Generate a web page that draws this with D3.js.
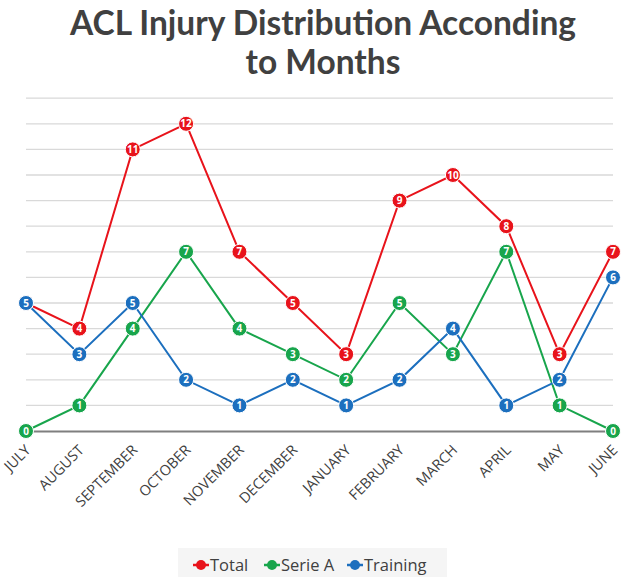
<!DOCTYPE html>
<html><head><meta charset="utf-8">
<script src="https://cdn.jsdelivr.net/npm/d3@7"></script>
<style>body{margin:0;background:#fff}svg{display:block}</style>
</head><body><svg id="c" width="630" height="582"></svg>
<script>
const months = ["JULY","AUGUST","SEPTEMBER","OCTOBER","NOVEMBER","DECEMBER","JANUARY","FEBRUARY","MARCH","APRIL","MAY","JUNE"];
const total = [5,4,11,12,7,5,3,9,10,8,3,7];
const serieA = [0,1,4,7,4,3,2,5,3,7,1,0];
const training = [5,3,5,2,1,2,1,2,4,1,2,6];
const seriesNames = ["Total","Serie A","Training"];
const colors = ["#E8131B","#18A54C","#1C6FBE"];
const gridTicks = d3.range(1,14);

const svg = d3.select("#c");
const x = d3.scalePoint().domain(months).range([26,613]);
const y = d3.scaleLinear().domain([0,13]).range([431,98.2]);

// title
const title = svg.append("text").attr("text-anchor","middle").attr("fill","#404040")
  .style("font-family","Lato, 'Open Sans', sans-serif").style("font-weight","bold").style("font-size","33.5px");
title.append("tspan").attr("x",323).attr("y",35).text("ACL Injury Distribution Acconding");
title.append("tspan").attr("x",323).attr("y",74).text("to Months");

// grid
svg.append("g").selectAll("line").data(gridTicks).join("line")
  .attr("x1",26).attr("x2",613).attr("y1",d=>y(d)).attr("y2",d=>y(d))
  .attr("stroke","#d9d9d9").attr("stroke-width",1.3);

// x axis
const xAxis = svg.append("g").attr("transform",`translate(0,${y(0)})`)
  .call(d3.axisBottom(x).tickSize(0).tickPadding(0));
xAxis.select(".domain").attr("stroke","#7f7f7f").attr("stroke-width",2);
xAxis.selectAll("text").attr("fill","#404040")
  .style("font-family","'Open Sans', sans-serif").style("font-size","14.5px")
  .attr("text-anchor","end").attr("dy",null).attr("y",0)
  .attr("transform","translate(5,20) rotate(-45)");

const data = [total, serieA, training];
const line = d3.line().x((d,i)=>x(months[i])).y(d=>y(d));
data.forEach((vals,k)=>{
  svg.append("path").datum(vals).attr("d",line).attr("fill","none")
    .attr("stroke",colors[k]).attr("stroke-width",2);
});
data.forEach((vals,k)=>{
  const g = svg.append("g");
  const pts = g.selectAll("g").data(vals).join("g")
    .attr("transform",(d,i)=>`translate(${x(months[i])},${y(d)})`);
  pts.append("circle").attr("r",7.5).attr("fill",colors[k]).attr("stroke","#fff").attr("stroke-width",1);
  pts.append("text").attr("text-anchor","middle").attr("dy","0.36em").attr("fill","#fff")
    .style("font-family","'Open Sans', sans-serif").style("font-weight","bold").style("font-size","10px")
    .text(d=>d);
});

// legend
svg.append("rect").attr("x",178).attr("y",548).attr("width",269).attr("height",29).attr("fill","#f5f5f5");
const legendX = [201,272,355];
const lg = svg.append("g").selectAll("g").data(seriesNames).join("g")
  .attr("transform",(d,i)=>`translate(${legendX[i]},565)`);
lg.append("line").attr("x1",-8).attr("x2",8).attr("stroke",(d,i)=>colors[i]).attr("stroke-width",2.5);
lg.append("circle").attr("r",5).attr("fill",(d,i)=>colors[i]);
lg.append("text").attr("x",9).attr("dy","0.35em").attr("fill","#404040")
  .style("font-family","'Open Sans', sans-serif").style("font-size","16.5px").text(d=>d);
</script></body></html>
